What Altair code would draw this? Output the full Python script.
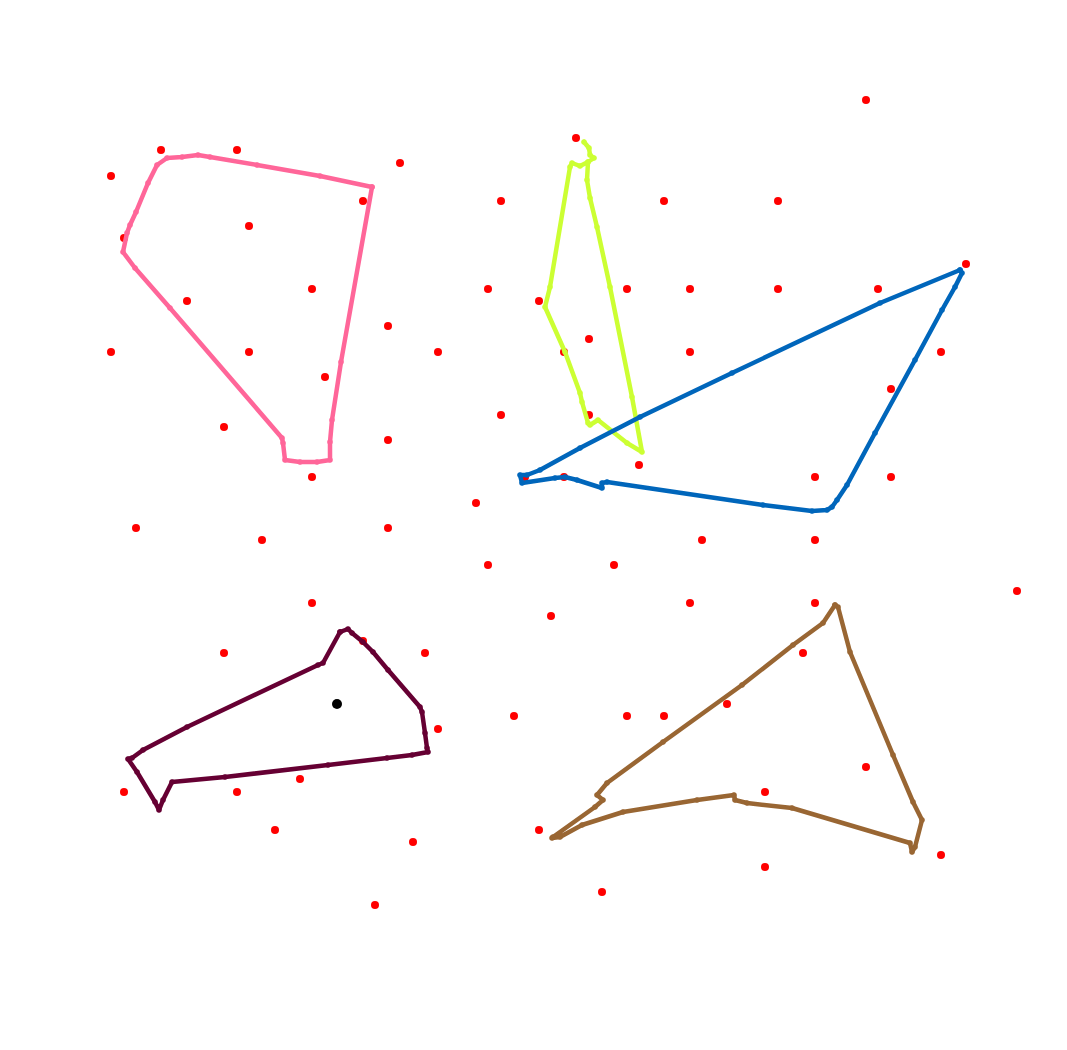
import altair as alt
import pandas as pd

# scattered red points (pixel-space coordinates)
red_x = [866, 576, 161, 237, 400, 111, 363, 501, 664, 778, 249, 124, 966, 312, 488, 539, 627, 690, 778, 878,
         187, 388, 589, 111, 249, 438, 564, 690, 941, 325, 891, 501, 589, 224, 388, 639, 312, 564, 525, 815, 891,
         476, 136, 388, 262, 702, 815, 488, 614, 1017, 312, 690, 815, 551, 363, 224, 425, 803, 727, 438, 514, 627,
         664, 866, 124, 237, 765, 300, 275, 539, 413, 941, 765, 602, 375]
red_y = [100, 138, 150, 150, 163, 176, 201, 201, 201, 201, 226, 238, 264, 289, 289, 301, 289, 289, 289, 289,
         301, 326, 339, 352, 352, 352, 352, 352, 352, 377, 389, 415, 415, 427, 440, 465, 477, 477, 477, 477, 477,
         503, 528, 528, 540, 540, 540, 565, 565, 591, 603, 603, 603, 616, 641, 653, 653, 653, 704, 729, 716, 716,
         716, 767, 792, 792, 792, 779, 830, 830, 842, 855, 867, 892, 905]

black_x = [337]
black_y = [704]

pink_x = [372, 320, 257, 210, 198, 182, 167, 157, 148, 136, 130, 127, 123, 135, 170, 282, 283, 285, 300, 317, 330, 330, 332, 341, 372]
pink_y = [187, 176, 165, 157, 155, 157, 158, 165, 183, 212, 225, 233, 252, 268, 308, 438, 443, 460, 462, 462, 460, 442, 420, 362, 187]

lime_x = [584, 589, 590, 594, 588, 580, 572, 570, 550, 545, 565, 580, 582, 588, 590, 598, 627, 642, 632, 610, 597, 590, 587, 588]
lime_y = [142, 148, 155, 158, 162, 166, 163, 167, 287, 307, 352, 393, 402, 423, 425, 420, 443, 452, 397, 287, 227, 198, 180, 162]

blue_x = [960, 962, 955, 942, 915, 875, 847, 837, 832, 827, 812, 763, 607, 602, 602, 577, 565, 555, 522, 520, 527, 540, 580, 640, 732, 880, 960]
blue_y = [270, 273, 287, 310, 360, 433, 485, 500, 507, 510, 511, 505, 482, 483, 488, 480, 477, 478, 483, 475, 475, 470, 448, 417, 373, 303, 270]

maroon_x = [340, 348, 352, 363, 373, 388, 420, 422, 425, 427, 428, 412, 387, 328, 225, 172, 163, 159, 155, 137, 128, 132, 143, 187, 318, 323, 340]
maroon_y = [632, 629, 633, 642, 652, 670, 707, 712, 733, 748, 752, 755, 758, 765, 777, 782, 800, 810, 802, 772, 759, 758, 750, 727, 665, 663, 632]

brown_x = [835, 838, 850, 893, 913, 922, 915, 912, 910, 792, 747, 735, 734, 697, 623, 582, 560, 552, 553, 595, 603, 597, 607, 663, 742, 793, 823, 835]
brown_y = [605, 607, 652, 755, 802, 820, 847, 852, 843, 808, 803, 800, 795, 800, 812, 825, 837, 838, 837, 807, 800, 795, 783, 742, 685, 645, 623, 605]

shapes = [("pink", pink_x, pink_y), ("lime", lime_x, lime_y), ("blue", blue_x, blue_y),
          ("maroon", maroon_x, maroon_y), ("brown", brown_x, brown_y)]
rows = []
for name, xs, ys in shapes:
    for i, (a, b) in enumerate(zip(xs, ys)):
        rows.append({"shape": name, "idx": i, "x": a, "y": b})
lines_df = pd.DataFrame(rows)
red_df = pd.DataFrame({"x": red_x, "y": red_y})
black_df = pd.DataFrame({"x": black_x, "y": black_y})

W, H = 1067, 1050
xs = alt.Scale(domain=[0, W], nice=False, zero=False)
ys = alt.Scale(domain=[0, H], nice=False, zero=False, reverse=True)
color_scale = alt.Scale(domain=["pink", "lime", "blue", "maroon", "brown"],
                        range=["#ff6699", "#ccff33", "#0066bb", "#660033", "#996633"])

red = alt.Chart(red_df).mark_circle(color="#ff0000", opacity=1, size=64).encode(
    x=alt.X("x:Q", scale=xs, axis=None), y=alt.Y("y:Q", scale=ys, axis=None))
black = alt.Chart(black_df).mark_circle(color="#000000", opacity=1, size=100).encode(
    x=alt.X("x:Q", scale=xs, axis=None), y=alt.Y("y:Q", scale=ys, axis=None))
lines = alt.Chart(lines_df).mark_line(strokeWidth=4.5, strokeJoin="round", strokeCap="round").encode(
    x=alt.X("x:Q", scale=xs, axis=None), y=alt.Y("y:Q", scale=ys, axis=None),
    color=alt.Color("shape:N", scale=color_scale, legend=None),
    detail="shape:N", order="idx:Q")
pts = alt.Chart(lines_df).mark_circle(opacity=1, size=30).encode(
    x=alt.X("x:Q", scale=xs, axis=None), y=alt.Y("y:Q", scale=ys, axis=None),
    color=alt.Color("shape:N", scale=color_scale, legend=None))

chart = alt.layer(red, lines, pts, black).properties(
    width=W, height=H, padding=0, autosize=alt.AutoSizeParams(type="none")
).configure_view(stroke=None)

chart.save("out.html", embed_options={"renderer": "svg", "actions": False})
